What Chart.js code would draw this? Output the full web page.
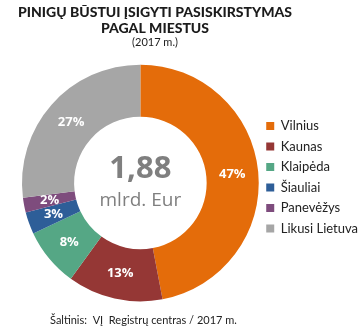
<!DOCTYPE html>
<html>
<head>
<meta charset="utf-8">
<script src="https://cdn.jsdelivr.net/npm/chart.js@4.4.0/dist/chart.umd.min.js"></script>
<style>
  html, body { margin: 0; padding: 0; background: #fff; }
  #wrap { width: 359px; height: 331px; position: relative; }
</style>
</head>
<body>
<div id="wrap"><canvas id="canvas1" width="359" height="331"></canvas></div>
<script>
const titleLines = ['PINIGŲ BŪSTUI ĮSIGYTI PASISKIRSTYMAS', 'PAGAL MIESTUS'];
const subtitle = '(2017 m.)';
const sourceText = 'Šaltinis:  VĮ  Registrų centras / 2017 m.';
const totalValue = '1,88';
const totalUnit = 'mlrd. Eur';

const cities = ['Vilnius', 'Kaunas', 'Klaipėda', 'Šiauliai', 'Panevėžys', 'Likusi Lietuva'];
const shares = [47, 13, 8, 3, 2, 27];
const colors = ['#E46C0A', '#953735', '#55A785', '#2E5E98', '#7E4C7D', '#A6A6A6'];

const ctx1 = document.getElementById('canvas1');

// texts around the doughnut: title, centre total, percentages, source
const textPlugin = {
    id: 'texts',
    afterDraw(chart) {
        const c = chart.ctx;
        c.save();
        c.textAlign = 'center';
        c.textBaseline = 'alphabetic';
        c.fillStyle = '#1b1b1b';
        c.font = '900 14px Lato';
        c.fillText(titleLines[0], 155, 17);
        c.fillText(titleLines[1], 155, 33);
        c.font = '11px Lato';
        c.fillText(subtitle, 155, 46);

        const area = chart.chartArea;
        const cx = (area.left + area.right) / 2;
        const cy = (area.top + area.bottom) / 2;
        c.fillStyle = '#7f7f7f';
        c.font = 'bold 31px "Open Sans"';
        c.fillText(totalValue, cx, cy - 5);
        c.font = '19px "Open Sans"';
        c.fillText(totalUnit, cx, cy + 23);

        const meta = chart.getDatasetMeta(0);
        c.fillStyle = '#ffffff';
        c.font = 'bold 13px "Open Sans"';
        c.textBaseline = 'middle';
        meta.data.forEach((arc, i) => {
            const p = arc.tooltipPosition();
            c.fillText(shares[i] + '%', p.x, p.y);
        });

        c.textAlign = 'left';
        c.textBaseline = 'alphabetic';
        c.fillStyle = '#222222';
        c.font = '11px Lato';
        c.fillText(sourceText, 50, 324);
        c.restore();
    }
};

const data1 = {
    labels: cities,
    datasets: [{
        data: shares,
        backgroundColor: colors,
        borderWidth: 0
    }]
};

const c1 = new Chart(ctx1, {
    type: 'doughnut',
    data: data1,
    plugins: [textPlugin],
    options: {
        responsive: false,
        animation: false,
        cutout: '56%',
        layout: {
            padding: { top: 64, bottom: 29, left: 22, right: -9 }
        },
        plugins: {
            tooltip: { enabled: false },
            legend: {
                position: 'right',
                align: 'start',
                title: {
                    display: true,
                    text: ' ',
                    font: { size: 10 },
                    padding: { top: 36, bottom: 0 }
                },
                labels: {
                    boxWidth: 8,
                    boxHeight: 8,
                    padding: 7.5,
                    color: '#222222',
                    font: { family: 'Lato', size: 13 }
                }
            }
        }
    }
});
</script>
</body>
</html>
